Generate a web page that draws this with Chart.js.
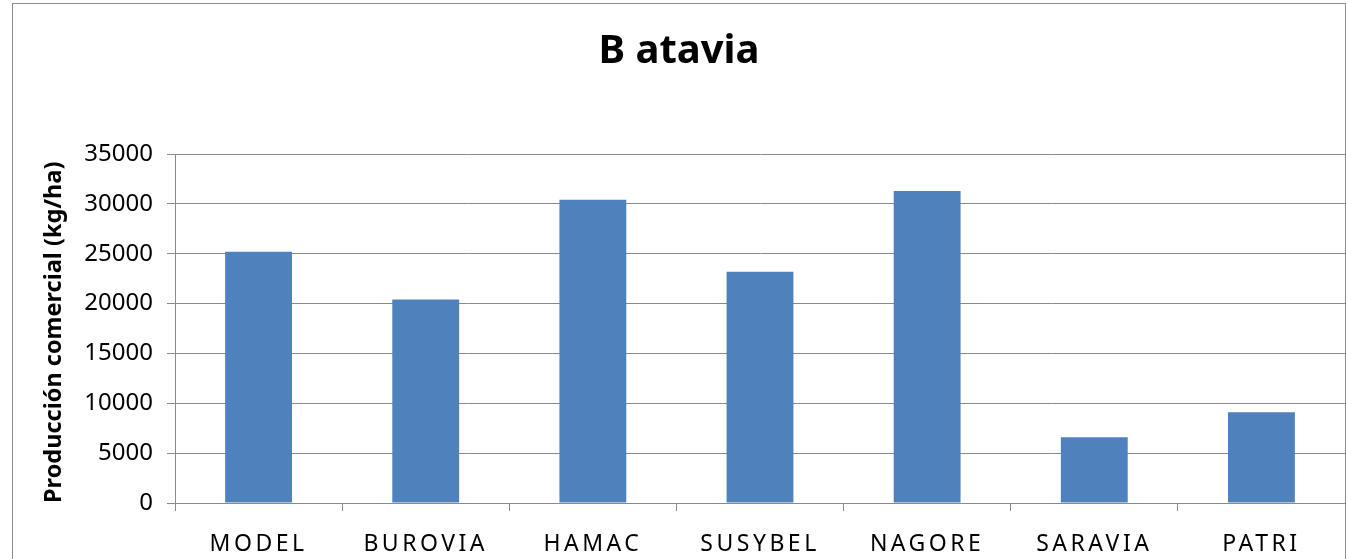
<!DOCTYPE html>
<html>
<head>
<meta charset="utf-8">
<script src="https://cdn.jsdelivr.net/npm/chart.js@4"></script>
<style>
  html, body { margin: 0; padding: 0; background: #fff; overflow: hidden; }
  #box { position: absolute; left: 12px; top: 3px; width: 1332px; height: 570px; border: 1px solid #8c8c8c; }
  #wrap { width: 1332px; height: 555px; }
</style>
</head>
<body>
<div id="box"><div id="wrap"><canvas id="c"></canvas></div></div>
<script>
// datos
const variedades = ['MODEL', 'BUROVIA', 'HAMAC', 'SUSYBEL', 'NAGORE', 'SARAVIA', 'PATRI'];
const produccion = [25200, 20400, 30400, 23200, 31300, 6600, 9100];
const ejeY = { min: 0, max: 35000, paso: 5000 };

const GRIS = '#8a8a8a';

// espaciado de letras sólo para las etiquetas de categoría
const espaciado = {
  id: 'espaciado',
  afterLayout(chart) {
    const s = chart.scales.x;
    if (s._parcheado) return;
    const orig = s.drawLabels;
    s.drawLabels = function(area) {
      const ctx = this.ctx;
      ctx.save();
      ctx.letterSpacing = '3.5px';
      orig.call(this, area);
      ctx.restore();
    };
    s._parcheado = true;
  }
};

new Chart(document.getElementById('c'), {
  type: 'bar',
  data: {
    labels: variedades,
    datasets: [{
      data: produccion,
      backgroundColor: '#4f81bd',
      categoryPercentage: 1,
      barPercentage: 0.4
    }]
  },
  options: {
    responsive: true,
    maintainAspectRatio: false,
    animation: false,
    layout: { padding: 0 },
    plugins: {
      legend: { display: false },
      tooltip: { enabled: false },
      title: {
        display: true,
        text: 'B atavia',
        color: '#000',
        font: { family: 'Noto Sans', size: 40, weight: 'bold' },
        padding: { top: 24, bottom: 78 }
      }
    },
    scales: {
      x: {
        grid: { display: true, drawOnChartArea: false, drawTicks: true, tickLength: 8, color: GRIS, offset: true },
        border: { color: GRIS },
        ticks: { color: '#000', font: { family: 'Noto Sans', size: 23 }, padding: 20, maxRotation: 0 },
        afterFit(s) { s.height = 56; }
      },
      y: {
        min: ejeY.min,
        max: ejeY.max,
        grid: { color: GRIS, tickLength: 8 },
        border: { color: GRIS },
        ticks: {
          stepSize: ejeY.paso, color: '#000', font: { family: 'Noto Sans', size: 24 }, padding: 14,
          callback: v => String(v)
        },
        title: {
          display: true,
          align: 'start',
          text: 'Producción comercial (kg/ha)',
          color: '#000',
          font: { family: 'Noto Sans', size: 23.5, weight: 'bold' },
          padding: { top: 27, bottom: 0 }
        },
        afterFit(s) { s.width = 162; }
      }
    }
  },
  plugins: [espaciado]
});
</script>
</body>
</html>
